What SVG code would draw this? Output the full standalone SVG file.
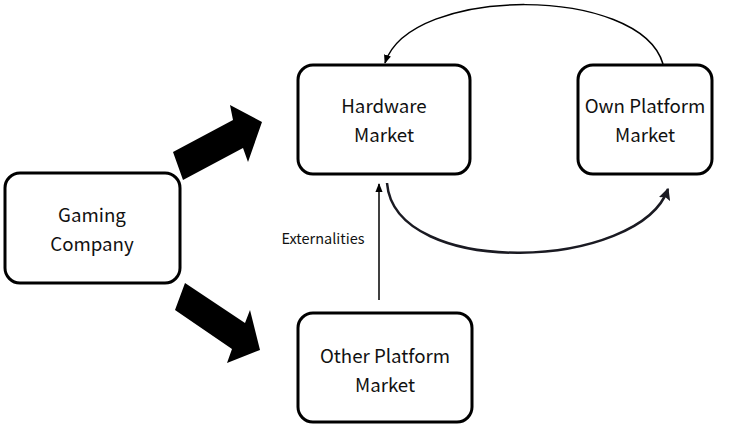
<svg xmlns="http://www.w3.org/2000/svg" width="750" height="427" viewBox="0 0 750 427">
<style>
.box{fill:#fff;stroke:#000;stroke-width:3}
.lbl{font-family:"Noto Sans CJK SC","Noto Sans",sans-serif;font-size:18.7px;fill:#111;text-anchor:middle}
.small{font-family:"Noto Sans CJK SC","Noto Sans",sans-serif;font-size:14.5px;fill:#111;text-anchor:middle}
.thin{fill:none;stroke:#000;stroke-width:1.5}
.curve{fill:none;stroke:#1a1a22;stroke-width:2.5}
.fat{fill:#000}
</style>
<defs>
<marker id="ah" viewBox="0 0 10 10" refX="9" refY="5" markerWidth="9" markerHeight="9" markerUnits="userSpaceOnUse" orient="auto">
<path d="M0,1 L10,5 L0,9 z" fill="#000"/>
</marker>
<marker id="ah2" viewBox="0 0 10 10" refX="9" refY="5" markerWidth="12" markerHeight="12" markerUnits="userSpaceOnUse" orient="auto">
<path d="M0,0 L10,5 L0,10 L2,5 z" fill="#1a1a22"/>
</marker>
</defs>
<g id="connectors">
<polygon class="fat" points="173,152 233,120 230,105 262,122 248,162 243,148 183,180"/>
<polygon class="fat" points="185,283 245,323 250,310 260,350 227,363 232,349 175,310"/>
<path class="thin" d="M379,300 L379,184" marker-end="url(#ah)"/>
<path class="thin" d="M663,64 C640,-15 410,-15 385,63" marker-end="url(#ah)"/>
<path class="curve" d="M387,183 C395,280 640,270 668,189" marker-end="url(#ah2)"/>
<text class="small" x="323" y="244">Externalities</text>
</g>
<g id="gaming">
<rect class="box" x="5" y="173" width="175" height="110" rx="15"/>
<text class="lbl" x="92" y="222">Gaming</text>
<text class="lbl" x="92" y="251">Company</text>
</g>
<g id="hardware">
<rect class="box" x="298" y="65" width="172" height="109" rx="15"/>
<text class="lbl" x="384" y="113">Hardware</text>
<text class="lbl" x="384" y="142">Market</text>
</g>
<g id="own">
<rect class="box" x="578" y="65" width="134" height="109" rx="15"/>
<text class="lbl" x="645" y="113">Own Platform</text>
<text class="lbl" x="645" y="142">Market</text>
</g>
<g id="other">
<rect class="box" x="298" y="313" width="174" height="109" rx="15"/>
<text class="lbl" x="385" y="363">Other Platform</text>
<text class="lbl" x="385" y="392">Market</text>
</g>
</svg>
